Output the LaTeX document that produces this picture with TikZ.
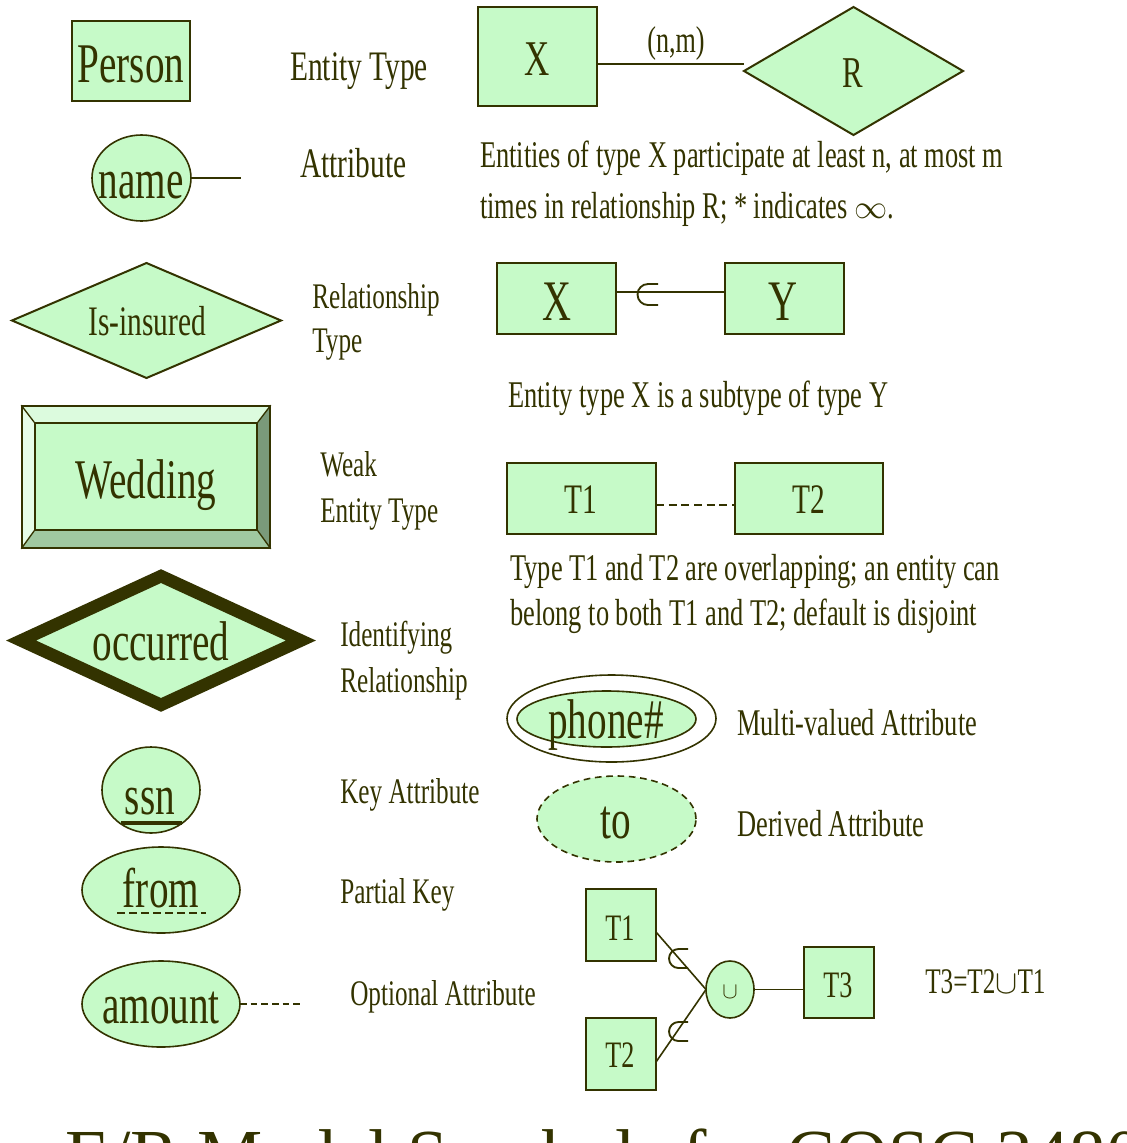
\documentclass[tikz,border=0pt]{standalone}
\usepackage{fontspec}
\setmainfont[FakeStretch=0.7]{Liberation Serif}
\newfontfamily\titlefont{Liberation Serif}
\usetikzlibrary{shapes.geometric}
\definecolor{ink}{HTML}{333300}
\definecolor{gfill}{HTML}{C6FAC8}
\definecolor{bevtop}{HTML}{DCFBDE}
\definecolor{bevleft}{HTML}{E6FDE8}
\definecolor{bevright}{HTML}{7A9A7A}
\definecolor{bevbot}{HTML}{A0C8A0}
\tikzset{
  sz/.style 2 args={minimum width=#1*0.75pt, minimum height=#2*0.75pt},
  shp/.style={draw=ink, fill=gfill, line width=1.5pt, inner sep=0pt, outer sep=0pt},
  ell/.style={shp, ellipse, line width=1.2pt},
  conn/.style={draw=ink, line width=1.5pt},
  big/.style={font=\fontsize{42}{48}\selectfont, text=ink, inner sep=0pt, anchor=base},
  mid/.style={font=\fontsize{31.5}{36}\selectfont, text=ink, inner sep=0pt, anchor=base},
  small/.style={font=\fontsize{28}{32}\selectfont, text=ink, inner sep=0pt, anchor=base},
  desc/.style={font=\fontsize{31.5}{36}\selectfont, text=ink, inner sep=0pt, anchor=base west},
  desc2/.style={font=\fontsize{28.3}{33}\selectfont, text=ink, inner sep=0pt, anchor=base west},
  lab/.style={font=\fontsize{27}{31}\selectfont, text=ink, inner sep=0pt, anchor=base west},
  subsym/.style={draw=ink, line width=1.4pt},
}
\begin{document}
\begin{tikzpicture}[x=0.75pt,y=-0.75pt]
\useasboundingbox (0,0) rectangle (1127,1143);
\clip (0,0) rectangle (1127,1143);

% ---- Entity type
\node[shp, sz={118}{80}] (person) at (131,61) {};
\node[big] (personT) at (131,82) {Person};
\node[desc] (entityT) at (290,80) {Entity Type};

% ---- X (n,m) R
\node[shp, sz={119}{99}] (xr) at (537.5,56.5) {};
\node[font=\fontsize{37.5}{42}\selectfont, text=ink, inner sep=0pt, anchor=base] (xrT) at (537,75) {X};
\node[shp, diamond, sz={219}{128}] (r) at (853.5,71) {};
\node[font=\fontsize{33}{38}\selectfont, text=ink, inner sep=0pt, anchor=base] (rT) at (853,87) {R};
\coordinate (l1) at (0,64);
\draw[conn] (xr.east |- l1) -- (r.west |- l1);
\node[font=\fontsize{28}{32}\selectfont, text=ink, inner sep=0pt, anchor=base] (nm) at (676,52) {(n,m)};
\node[desc2] (d1a) at (480,167) {Entities of type X participate at least n, at most m};
\node[desc2] (d1b) at (480,218) {times in relationship R; * indicates $\infty$.};

% ---- Attribute
\node[ell, sz={99}{86}] (name) at (141.5,178) {};
\node[big] (nameT) at (141,198) {name};
\coordinate (nameEnd) at (241,178);
\draw[conn] (name.east) -- (nameEnd);
\node[desc] (attrT) at (300,177) {Attribute};

% ---- Relationship type
\node[shp, diamond, sz={269}{115}] (ins) at (146.5,320.5) {};
\node[mid] (insT) at (147,335) {Is-insured};
\node[lab] (relT1) at (312,308) {Relationship};
\node[lab] (relT2) at (312,352) {Type};

% ---- Subtype
\node[shp, sz={119}{71}] (xs) at (556.5,298.5) {};
\node[shp, sz={119}{71}] (ys) at (784.5,298.5) {};
\node[font=\fontsize{43}{48}\selectfont, text=ink, inner sep=0pt, anchor=base] (xsT) at (557,320) {X};
\node[font=\fontsize{43}{48}\selectfont, text=ink, inner sep=0pt, anchor=base] (ysT) at (783,320) {Y};
\coordinate (l2) at (0,292);
\draw[conn] (xs.east |- l2) -- (ys.west |- l2);
\draw[subsym] (658,284) -- (648,284) arc[start angle=90, end angle=270, radius=7.875pt] -- (658,305);
\node[desc2] (d2) at (508,407) {Entity type X is a subtype of type Y};

% ---- Weak entity type
\fill[bevtop] (22,406) -- (270,406) -- (257,423) -- (35,423) -- cycle;
\fill[bevleft] (22,406) -- (35,423) -- (35,530) -- (22,548) -- cycle;
\fill[bevright] (270,406) -- (270,548) -- (257,530) -- (257,423) -- cycle;
\fill[bevbot] (22,548) -- (270,548) -- (257,530) -- (35,530) -- cycle;
\node[draw=ink, line width=1.2pt, inner sep=0pt, sz={248}{142}] (wed) at (146,477) {};
\node[draw=ink, fill=gfill, line width=1.2pt, inner sep=0pt, sz={222}{107}] (wedin) at (146,476.5) {};
\draw[ink, line width=1pt] (wed.north west) -- (wedin.north west)
  (wed.north east) -- (wedin.north east)
  (wed.south west) -- (wedin.south west)
  (wed.south east) -- (wedin.south east);
\node[big] (wedT) at (146,498) {Wedding};
\node[lab] (weakT1) at (320,476) {Weak};
\node[lab] (weakT2) at (320,522) {Entity Type};

% ---- Overlapping
\node[shp, sz={149}{71}] (o1) at (581.5,498.5) {};
\node[shp, sz={148}{71}] (o2) at (809,498.5) {};
\node[mid] (o1T) at (581,513) {T1};
\node[mid] (o2T) at (809,513) {T2};
\coordinate (l3) at (0,505);
\draw[conn, dash pattern=on 6pt off 3.5pt] (o1.east |- l3) -- (o2.west |- l3);
\node[desc2] (d3a) at (510,580) {Type T1 and T2 are overlapping; an entity can};
\node[desc2] (d3b) at (510,625) {belong to both T1 and T2; default is disjoint};

% ---- Identifying relationship
\node[diamond, draw=ink, fill=gfill, line width=9.4pt, inner sep=0pt, sz={285}{134}] (occ) at (161,640.5) {};
\node[big] (occT) at (161,660) {occurred};
\node[lab] (idT1) at (340,646) {Identifying};
\node[lab] (idT2) at (340,692) {Relationship};

% ---- Multi-valued
\node[ellipse, draw=ink, line width=1.2pt, inner sep=0pt, sz={209}{87}] (phoneO) at (611.5,718.5) {};
\node[ell, sz={179}{56}] (phone) at (606.5,719) {};
\node[big] (phoneT) at (606,738) {phone\#};
\node[desc2] (mvT) at (737,735) {Multi-valued Attribute};

% ---- Derived
\node[ell, dash pattern=on 5pt off 3.5pt, sz={159}{86}] (to) at (616.5,819) {};
\node[big] (toT) at (616,838) {to};
\node[desc2] (drT) at (737,836) {Derived Attribute};

% ---- Key attribute
\node[ell, sz={98}{86}] (ssn) at (151,790) {};
\node[big] (ssnT) at (150,814) {ssn};
\draw[ink, line width=2.4pt] (121,823) -- (182,823);
\node[lab] (keyT) at (340,803) {Key Attribute};

% ---- Partial key
\node[ell, sz={158}{86}] (from) at (161,890) {};
\node[big] (fromT) at (161,907) {from};
\draw[ink, line width=2.2pt, dash pattern=on 6pt off 3pt] (117,913) -- (206,913);
\node[lab] (pkT) at (340,903) {Partial Key};

% ---- Optional attribute
\node[ell, sz={158}{86}] (amount) at (161,1004) {};
\node[big] (amountT) at (161,1023) {amount};
\coordinate (amEnd) at (300,1004);
\draw[conn, line width=1.2pt, dash pattern=on 5pt off 3pt] (amount.east) -- (amEnd);
\node[lab] (optT) at (350,1005) {Optional Attribute};

% ---- Union
\node[shp, sz={70}{72}] (u1) at (621,925) {};
\node[shp, sz={70}{72}] (u2) at (621,1054) {};
\node[ell, sz={48}{57}] (un) at (730,989.5) {};
\node[shp, sz={70}{71}] (u3) at (839,982.5) {};
\node[small] (u1T) at (620,940) {T1};
\node[small] (u2T) at (620,1067) {T2};
\node[small] (u3T) at (838,997) {T3};
\node[font=\fontsize{18}{20}\selectfont, text=ink, inner sep=0pt] (unT) at (730,992) {$\cup$};
\draw[conn, line width=1.2pt] ([yshift=-5.25pt]u1.east) -- (un.west);
\draw[conn, line width=1.2pt] ([yshift=-6pt]u2.east) -- (un.west);
\draw[conn, line width=1.2pt] (un.east) -- (u3.west |- un.east);
\draw[subsym] (688,949) -- (678.5,949) arc[start angle=90, end angle=270, radius=7.125pt] -- (688,968);
\draw[subsym] (688,1022) -- (678.5,1022) arc[start angle=90, end angle=270, radius=7.125pt] -- (688,1041);
\node[lab] (unionT) at (925,993) {T3=T2$\cup$T1};

% ---- Title
\node[anchor=base west, font=\titlefont\fontsize{55}{60}\selectfont, text=ink, inner sep=0pt] (title) at (65,1180) {E/R Model Symbols for COSC 3480};
\end{tikzpicture}
\end{document}
